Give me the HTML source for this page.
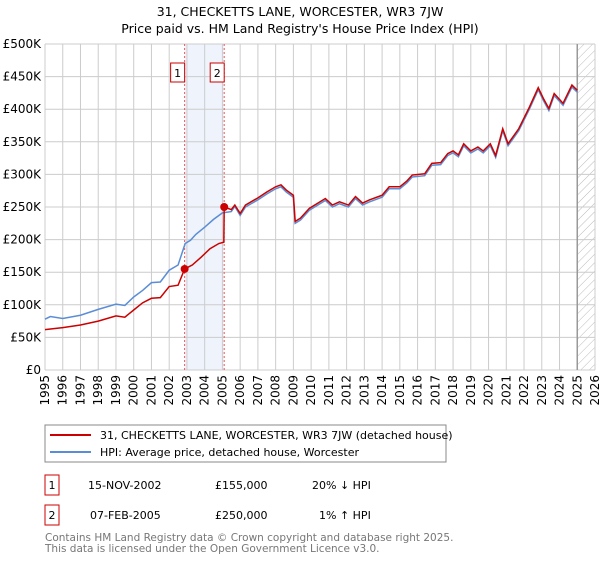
<!DOCTYPE html>
<html><head><meta charset="utf-8"><style>
body{margin:0;background:#fff;font-family:"DejaVu Sans","Liberation Sans",sans-serif}
svg text{font-family:"DejaVu Sans","Liberation Sans",sans-serif}
</style></head><body>
<svg id="chart" width="600" height="560" xmlns="http://www.w3.org/2000/svg">
<text x="300" y="16" text-anchor="middle" font-size="12.5">31, CHECKETTS LANE, WORCESTER, WR3 7JW</text>
<text x="300" y="33" text-anchor="middle" font-size="12.5">Price paid vs. HM Land Registry's House Price Index (HPI)</text>
<defs><pattern id="hatch" width="6" height="6" patternUnits="userSpaceOnUse" patternTransform="rotate(45)"><line x1="0" y1="0" x2="0" y2="6" stroke="#bbb" stroke-width="1"/></pattern></defs>
<g id="grid"></g>
<g id="marks"></g>
<g id="axes"></g>
<rect x="45" y="425" width="401" height="37" fill="#fff" stroke="#888"/>
<line x1="50" y1="435" x2="91" y2="435" stroke="#cc0000" stroke-width="2"/>
<text x="100" y="439" font-size="11">31, CHECKETTS LANE, WORCESTER, WR3 7JW (detached house)</text>
<line x1="50" y1="452" x2="91" y2="452" stroke="#5b8dd6" stroke-width="2"/>
<text x="100" y="456" font-size="11">HPI: Average price, detached house, Worcester</text>
<g font-size="11">
<rect x="45" y="475" width="14" height="20" fill="#fff" stroke="#cc0000"/><text x="52" y="489" text-anchor="middle">1</text>
<text x="88" y="489">15-NOV-2002</text><text x="215" y="489">£155,000</text><text x="312" y="489">20% ↓ HPI</text></g>
<g font-size="11">
<rect x="45" y="505" width="14" height="20" fill="#fff" stroke="#cc0000"/><text x="52" y="519" text-anchor="middle">2</text>
<text x="90" y="519">07-FEB-2005</text><text x="215" y="519">£250,000</text><text x="319" y="519">1% ↑ HPI</text></g>
<text x="45" y="541" font-size="10.5" fill="#777">Contains HM Land Registry data © Crown copyright and database right 2025.</text>
<text x="45" y="552" font-size="10.5" fill="#777">This data is licensed under the Open Government Licence v3.0.</text>
</svg>
<script>
const yearTicks=[1995,1996,1997,1998,1999,2000,2001,2002,2003,2004,2005,2006,2007,2008,2009,2010,2011,2012,2013,2014,2015,2016,2017,2018,2019,2020,2021,2022,2023,2024,2025,2026];
const valueTicks=[0,50,100,150,200,250,300,350,400,450,500];
const valueTickLabels=["£0","£50K","£100K","£150K","£200K","£250K","£300K","£350K","£400K","£450K","£500K"];
const hpiDates=[1995.0,1995.3,1996,1997,1998,1999,1999.5,2000,2000.5,2001,2001.5,2002,2002.5,2002.9,2003.2,2003.5,2004,2004.5,2005,2005.5,2005.7,2006,2006.3,2007,2007.5,2008,2008.3,2008.6,2009,2009.1,2009.4,2009.9,2010.8,2011.2,2011.6,2012.1,2012.5,2012.9,2013.3,2014.0,2014.4,2015,2015.4,2015.7,2016.4,2016.8,2017.3,2017.7,2018,2018.3,2018.6,2019,2019.4,2019.7,2020.1,2020.4,2020.8,2021.1,2021.7,2022.3,2022.8,2023.1,2023.4,2023.7,2024.2,2024.7,2025.0];
const hpiValues=[78,82,79,84,93,101,99,112,122,134,135,153,161,194,199,208,219,231,241,243,251,237,250,261,270,278,281,273,265,225,230,245,260,250,255,250,263,253,258,265,278,278,287,296,298,314,315,329,333,327,344,333,339,333,344,326,367,344,367,400,430,413,398,421,406,434,426];
const saleDates=[1995.0,1996,1997,1998,1999,1999.5,2000,2000.5,2001,2001.5,2002,2002.5,2002.87,2003.3,2003.8,2004.3,2004.8,2005.08,2005.1,2005.5,2005.7,2006,2006.3,2007,2007.5,2008,2008.3,2008.6,2009,2009.1,2009.4,2009.9,2010.8,2011.2,2011.6,2012.1,2012.5,2012.9,2013.3,2014.0,2014.4,2015,2015.4,2015.7,2016.4,2016.8,2017.3,2017.7,2018,2018.3,2018.6,2019,2019.4,2019.7,2020.1,2020.4,2020.8,2021.1,2021.7,2022.3,2022.8,2023.1,2023.4,2023.7,2024.2,2024.7,2025.0];
const saleValues=[62,65,69,75,83,81,92,103,110,111,128,130,155,161,173,186,194,196,250,246,253,240,253,264,273,281,284,276,268,228,233,248,263,253,258,253,266,256,261,268,281,281,290,299,301,317,318,332,336,330,347,336,342,336,347,329,370,347,370,403,433,416,401,424,409,437,429];
const saleEventDates=[2002.87,2005.1];
const saleEventValues=[155,250];
const saleEventLabels=["1","2"];
const NS="http://www.w3.org/2000/svg";
const L=45,R=595,T=44,B=370;
const xS=y=>L+(y-1995)/(2026-1995)*(R-L);
const yS=v=>B-v/500*(B-T);
function mk(tag,attrs,parent){const e=document.createElementNS(NS,tag);for(const k in attrs)e.setAttribute(k,attrs[k]);parent.appendChild(e);return e;}
const grid=document.getElementById('grid'),marks=document.getElementById('marks'),axes=document.getElementById('axes');
mk('rect',{x:xS(saleEventDates[0]),y:T,width:xS(saleEventDates[1])-xS(saleEventDates[0]),height:B-T,fill:'#eef3fc'},grid);
mk('rect',{x:xS(2025.0),y:T,width:R-xS(2025.0),height:B-T,fill:'url(#hatch)'},grid);
yearTicks.forEach(yr=>{
 const l=mk('line',{x1:xS(yr),x2:xS(yr),y1:T,y2:B,stroke:'#cccccc'},grid);
 
 
 const tx=xS(yr)+4, ty=B+5;
 const t=mk('text',{x:tx,y:ty,'text-anchor':'end','font-size':'12',transform:'rotate(-90 '+tx+' '+ty+')'},axes);
 t.textContent=yr;
 
 
});
valueTicks.forEach((v,i)=>{
 const l=mk('line',{x1:L,x2:R,y1:yS(v),y2:yS(v),stroke:'#cccccc'},grid);
 
 
 const t=mk('text',{x:L-4,y:yS(v)+4,'text-anchor':'end','font-size':'12'},axes);
 t.textContent=valueTickLabels[i];
 
 
});
mk('line',{x1:xS(2025.0),x2:xS(2025.0),y1:T,y2:B,stroke:'#999','stroke-width':1.5},grid);
saleEventDates.forEach((d,i)=>{
 const l=mk('line',{x1:xS(d),x2:xS(d),y1:T,y2:B,stroke:'#ee5555','stroke-dasharray':'2,2'},grid);
 
 
});
const hp=mk('polyline',{points:hpiDates.map((d,i)=>xS(d)+','+yS(hpiValues[i])).join(' '),fill:'none',stroke:'#5b8dd6','stroke-width':1.5},marks);


const sp=mk('polyline',{points:saleDates.map((d,i)=>xS(d)+','+yS(saleValues[i])).join(' '),fill:'none',stroke:'#cc0000','stroke-width':1.5},marks);


saleEventDates.forEach((d,i)=>{
 const c=mk('circle',{cx:xS(d),cy:yS(saleEventValues[i]),r:4,fill:'#cc0000'},marks);
 
 
 const g=mk('g',{},marks);
 
 
 mk('rect',{x:xS(d)-14,y:63,width:14,height:19,fill:'#fff',stroke:'#cc0000'},g);
 const t=mk('text',{x:xS(d)-7,y:77,'text-anchor':'middle','font-size':'11'},g);
 t.textContent=saleEventLabels[i];
});
</script>
</body></html>
